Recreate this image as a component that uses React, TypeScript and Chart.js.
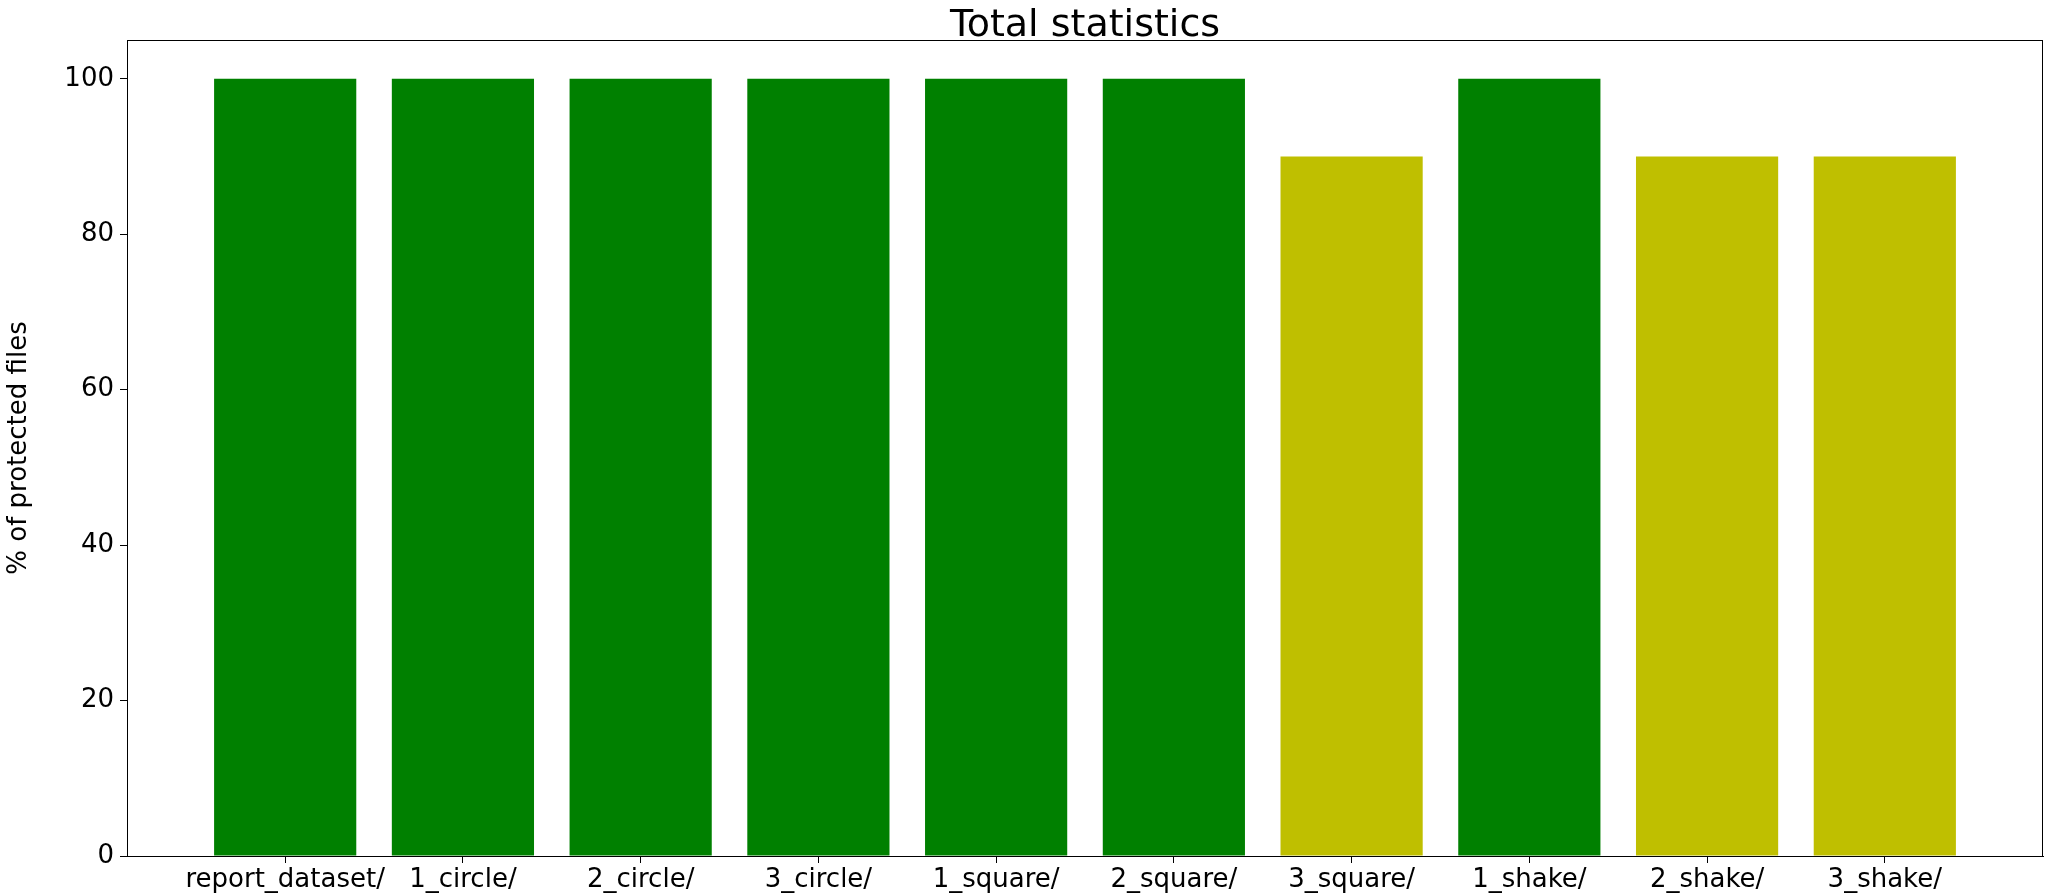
import React, { useEffect, useRef } from "react";
import { Chart, registerables } from "chart.js";

Chart.register(...registerables);

const folders = [
  "report_dataset/",
  "1_circle/",
  "2_circle/",
  "3_circle/",
  "1_square/",
  "2_square/",
  "3_square/",
  "1_shake/",
  "2_shake/",
  "3_shake/",
];
const protectedPct = [100, 100, 100, 100, 100, 100, 90, 100, 90, 90];
const yTicks = [0, 20, 40, 60, 80, 100];

const GREEN = "#008000";
const YELLOW = "#bfbf00";
const FONT = "'DejaVu Sans', sans-serif";

export default function App() {
  const canvasRef = useRef<HTMLCanvasElement>(null);

  useEffect(() => {
    document.body.style.margin = "0";
    if (!canvasRef.current) return;

    const chart = new Chart(canvasRef.current, {
      type: "bar",
      data: {
        datasets: [
          {
            data: protectedPct.map((v, i) => ({ x: i, y: v })),
            backgroundColor: protectedPct.map((v) => (v >= 100 ? GREEN : YELLOW)),
            barPercentage: 0.8,
            categoryPercentage: 1,
          },
        ],
      },
      options: {
        animation: false,
        responsive: false,
        layout: { padding: { top: 40, right: 7, left: 0, bottom: 0 } },
        plugins: {
          legend: { display: false },
          tooltip: { enabled: false },
        },
        scales: {
          x: {
            type: "linear",
            offset: false,
            min: -0.89,
            max: 9.89,
            afterBuildTicks: (s) => {
              s.ticks = folders.map((_, i) => ({ value: i }));
            },
            afterFit: (s) => {
              s.height = 39;
            },
            ticks: {
              color: "#000",
              font: { size: 26, family: FONT },
              padding: 2,
              maxRotation: 0,
              autoSkip: false,
              callback: (v) => folders[v as number] ?? "",
            },
            grid: { drawOnChartArea: false, offset: false, color: "#000", tickLength: 7 },
            border: { color: "#000" },
          },
          y: {
            min: 0,
            max: 105,
            afterBuildTicks: (s) => {
              s.ticks = yTicks.map((v) => ({ value: v }));
            },
            afterFit: (s) => {
              s.width = 127;
            },
            title: {
              display: true,
              text: "% of protected files",
              color: "#000",
              font: { size: 26, family: FONT },
              padding: { top: 4, bottom: 12 },
            },
            ticks: {
              color: "#000",
              font: { size: 26, family: FONT },
              padding: 6,
            },
            grid: { drawOnChartArea: false, color: "#000", tickLength: 7 },
            border: { color: "#000" },
          },
        },
      },
      plugins: [
        {
          id: "frameAndTitle",
          afterDraw: (c) => {
            const ctx = c.ctx;
            const { left, right, top, bottom } = c.chartArea;
            ctx.save();
            ctx.strokeStyle = "#000";
            ctx.lineWidth = 1;
            ctx.strokeRect(left + 0.5, top + 0.5, right - left - 1, bottom - top);
            ctx.fillStyle = "#000";
            ctx.font = `38px ${FONT}`;
            ctx.textAlign = "center";
            ctx.textBaseline = "alphabetic";
            ctx.fillText("Total statistics", (left + right) / 2, top - 4);
            ctx.restore();
          },
        },
      ],
    });

    return () => chart.destroy();
  }, []);

  return <canvas ref={canvasRef} width={2050} height={895} style={{ display: "block" }} />;
}
